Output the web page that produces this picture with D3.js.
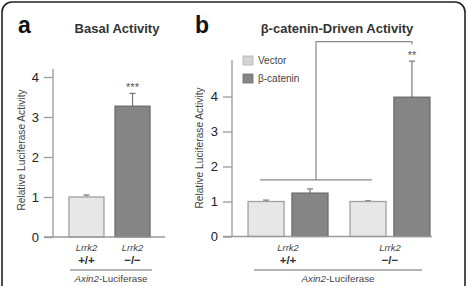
<!DOCTYPE html>
<html>
<head>
<meta charset="utf-8">
<script src="https://cdn.jsdelivr.net/npm/d3@7"></script>
<style>
  body { margin: 0; background: #fff; }
  svg { display: block; font-family: "Liberation Sans", Arial, sans-serif; }
  .tick text { font-size: 13px; fill: #222; }
  .tick line { stroke: #999; stroke-width: 1.3; }
</style>
</head>
<body>
<svg id="chart" width="467" height="286"></svg>
<script>
// genotypes on the x axis
var genotypes = ["+/+", "\u2212/\u2212"];
var treatments = ["Vector", "\u03b2-catenin"];
var yTicks = [0, 1, 2, 3, 4];

// panel a: basal activity
var basalValues = [1.0, 3.27];
var basalErrors = [0.05, 0.32];
var basalStars = ["", "***"];

// panel b: beta-catenin driven activity
var vectorValues = [1.0, 1.0];
var vectorErrors = [0.04, 0.02];
var cateninValues = [1.24, 3.98];
var cateninErrors = [0.12, 1.03];
var cateninStars = ["", "**"];

// comparison bracket levels (in y units)
var bracketLevels = [1.62, 5.57];

var COLORS = { light: "#e7e7e7", lightEdge: "#a0a0a0", dark: "#858585", darkEdge: "#6b6b6b", axis: "#9a9a9a", text: "#333" };
var fillFor = function(t) { return t === treatments[0] ? COLORS.light : COLORS.dark; };
var edgeFor = function(t) { return t === treatments[0] ? COLORS.lightEdge : COLORS.darkEdge; };

var svg = d3.select("#chart");

// outer frame
svg.append("rect")
  .attr("x", 2).attr("y", 2).attr("width", 463).attr("height", 300).attr("rx", 10)
  .style("fill", "none").style("stroke", "#222").style("stroke-width", 1.6);

function drawAxis(g, y, axisX, lineTop, baseFrom, baseTo) {
  var axis = g.append("g")
    .attr("transform", "translate(" + axisX + ",0)")
    .call(d3.axisLeft(y).tickValues(yTicks).tickSize(9).tickPadding(5).tickFormat(d3.format("d")));
  axis.select(".domain").remove();
  g.append("line")
    .attr("x1", axisX).attr("x2", axisX).attr("y1", lineTop).attr("y2", y(0))
    .style("stroke", COLORS.axis).style("stroke-width", 1.3);
  g.append("line")
    .attr("x1", baseFrom).attr("x2", baseTo).attr("y1", y(0)).attr("y2", y(0))
    .style("stroke", COLORS.axis).style("stroke-width", 1.3);
}

function yLabel(g, x, cy) {
  g.append("text")
    .attr("transform", "translate(" + x + "," + cy + ") rotate(-90)")
    .style("text-anchor", "middle").style("font-size", "10.2px").style("fill", "#444")
    .text("Relative Luciferase Activity");
}

function errorBar(g, cx, top, errTop) {
  g.append("line").attr("x1", cx).attr("x2", cx).attr("y1", top).attr("y2", errTop)
    .style("stroke", "#777").style("stroke-width", 1.2);
  g.append("line").attr("x1", cx - 3).attr("x2", cx + 3).attr("y1", errTop).attr("y2", errTop)
    .style("stroke", "#777").style("stroke-width", 1.2);
}

function genotypeLabels(g, xs, labelY, lineFrom, lineTo) {
  genotypes.forEach(function(d, i) {
    g.append("text").attr("x", xs[i]).attr("y", labelY)
      .style("text-anchor", "middle").style("font-size", "9.5px").style("fill", "#444")
      .style("font-style", "italic").text("Lrrk2");
    g.append("text").attr("x", xs[i]).attr("y", labelY + 13)
      .style("text-anchor", "middle").style("font-size", "11.5px").style("font-weight", "bold").style("fill", "#333")
      .text(d);
  });
  g.append("line").attr("x1", lineFrom).attr("x2", lineTo).attr("y1", labelY + 19).attr("y2", labelY + 19)
    .style("stroke", COLORS.axis).style("stroke-width", 1.3);
  var t = g.append("text").attr("x", (lineFrom + lineTo) / 2).attr("y", labelY + 31)
    .style("text-anchor", "middle").style("font-size", "9.8px").style("fill", "#444");
  t.append("tspan").style("font-style", "italic").text("Axin2");
  t.append("tspan").text("-Luciferase");
}

// ---------- panel a ----------
var ga = svg.append("g");
var ya = d3.scaleLinear().domain([0, 4]).range([237, 77]);
var xa = d3.scaleBand().domain(genotypes).range([63, 156]).paddingInner(0.24).paddingOuter(0.13);

ga.append("text").attr("x", 18).attr("y", 33).style("font-size", "23px").style("font-weight", "bold").style("fill", "#111").text("a");
ga.append("text").attr("x", 117).attr("y", 33).style("text-anchor", "middle").style("font-size", "13px").style("font-weight", "bold").style("fill", "#333").text("Basal Activity");

genotypes.forEach(function(d, i) {
  var cx = xa(d) + xa.bandwidth() / 2;
  errorBar(ga, cx, ya(basalValues[i]), ya(basalValues[i] + basalErrors[i]));
  if (basalStars[i]) {
    ga.append("text").attr("x", cx).attr("y", ya(basalValues[i] + basalErrors[i]) - 2)
      .style("text-anchor", "middle").style("font-size", "11px").style("fill", "#555").text(basalStars[i]);
  }
});
ga.selectAll(".bar-a")
  .data(genotypes).join("rect")
  .attr("class", "bar-a")
  .attr("x", d => xa(d))
  .attr("y", (d, i) => ya(basalValues[i]))
  .attr("width", xa.bandwidth())
  .attr("height", (d, i) => ya(0) - ya(basalValues[i]))
  .style("fill", (d, i) => i === 0 ? COLORS.light : COLORS.dark)
  .style("stroke", (d, i) => i === 0 ? COLORS.lightEdge : COLORS.darkEdge)
  .style("stroke-width", 1.3);

drawAxis(ga, ya, 53, 69, 44, 165);
yLabel(ga, 25, 150);
genotypeLabels(ga, genotypes.map(d => xa(d) + xa.bandwidth() / 2), 251, 70, 152);

// ---------- panel b ----------
var gb = svg.append("g");
var yb = d3.scaleLinear().domain([0, 4]).range([236.5, 96.5]);
var xb = d3.scaleBand().domain(genotypes).range([240, 438]).paddingInner(0.216).paddingOuter(0.079);
var xs = d3.scaleBand().domain(treatments).range([0, xb.bandwidth()]).paddingInner(0.18);

gb.append("text").attr("x", 195).attr("y", 33).style("font-size", "23px").style("font-weight", "bold").style("fill", "#111").text("b");
gb.append("text").attr("x", 337).attr("y", 33).style("text-anchor", "middle").style("font-size", "13px").style("font-weight", "bold").style("fill", "#333").text("\u03b2-catenin-Driven Activity");

var bdata = [];
genotypes.forEach(function(g, i) {
  bdata.push({ g: g, t: treatments[0], v: vectorValues[i], e: vectorErrors[i], s: "" });
  bdata.push({ g: g, t: treatments[1], v: cateninValues[i], e: cateninErrors[i], s: cateninStars[i] });
});

bdata.forEach(function(d) {
  var cx = xb(d.g) + xs(d.t) + xs.bandwidth() / 2;
  errorBar(gb, cx, yb(d.v), yb(d.v + d.e));
  if (d.s) {
    gb.append("text").attr("x", cx).attr("y", yb(d.v + d.e) - 2)
      .style("text-anchor", "middle").style("font-size", "11px").style("fill", "#555").text(d.s);
  }
});

gb.selectAll(".bar-b")
  .data(bdata).join("rect")
  .attr("class", "bar-b")
  .attr("x", d => xb(d.g) + xs(d.t))
  .attr("y", d => yb(d.v))
  .attr("width", xs.bandwidth())
  .attr("height", d => yb(0) - yb(d.v))
  .style("fill", d => fillFor(d.t))
  .style("stroke", d => edgeFor(d.t))
  .style("stroke-width", 1.3);

// comparison bracket
var bLeft = xb(genotypes[0]) + 12;
var bRight = xb(genotypes[0]) + xb.bandwidth() + 44;
var bMid = (bLeft + bRight) / 2;
var target = xb(genotypes[1]) + xs(treatments[1]) + xs.bandwidth() / 2;
gb.append("path")
  .attr("d", "M" + bLeft + "," + yb(bracketLevels[0]) + "H" + bRight +
    "M" + bMid + "," + yb(bracketLevels[0]) + "V" + yb(bracketLevels[1]) + "H" + target + "V" + (yb(bracketLevels[1]) + 3))
  .style("fill", "none").style("stroke", "#888").style("stroke-width", 1.2);

drawAxis(gb, yb, 232, 60, 223, 432);
yLabel(gb, 203, 148);
genotypeLabels(gb, genotypes.map(d => xb(d) + xb.bandwidth() / 2), 251, 254, 422);

// legend
var legend = gb.selectAll(".legend").data(treatments).join("g")
  .attr("class", "legend")
  .attr("transform", (d, i) => "translate(243," + (56 + i * 18) + ")");
legend.append("rect").attr("width", 10).attr("height", 9)
  .style("fill", d => d === treatments[0] ? "#d4d4d4" : COLORS.dark)
  .style("stroke", d => d === treatments[0] ? "#b0b0b0" : COLORS.darkEdge).style("stroke-width", 0.8);
legend.append("text").attr("x", 15).attr("y", 8)
  .style("font-size", "10px").style("fill", "#444").text(d => d);
</script>
</body>
</html>
